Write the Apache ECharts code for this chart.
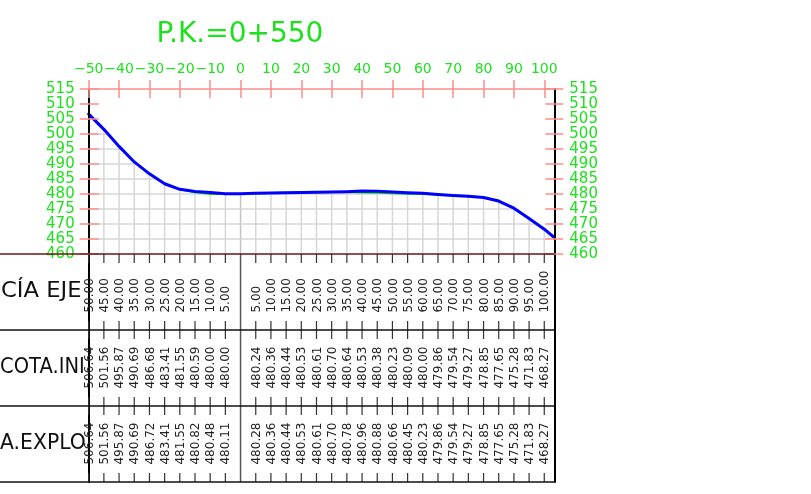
<!DOCTYPE html>
<html>
<head>
<meta charset="utf-8">
<script src="https://cdn.jsdelivr.net/npm/echarts@6/dist/echarts.min.js"></script>
<style>
html,body{margin:0;padding:0;background:#fff;}
#chart{width:811px;height:494px;}
</style>
</head>
<body>
<div id="chart"></div>
<script>
// ---------------- DATA ----------------
const titleText = 'P.K.=0+550';
const distances = [-50,-45,-40,-35,-30,-25,-20,-15,-10,-5,5,10,15,20,25,30,35,40,45,50,55,60,65,70,75,80,85,90,95,100];
const distanceLabels = ['50.00','45.00','40.00','35.00','30.00','25.00','20.00','15.00','10.00','5.00',
  '5.00','10.00','15.00','20.00','25.00','30.00','35.00','40.00','45.00','50.00','55.00','60.00','65.00','70.00','75.00','80.00','85.00','90.00','95.00','100.00'];
const cotaInicial = [506.64,501.56,495.87,490.69,486.68,483.41,481.55,480.59,480.00,480.00,
  480.24,480.36,480.44,480.53,480.61,480.70,480.64,480.53,480.38,480.23,480.09,480.00,479.86,479.54,479.27,478.85,477.65,475.28,471.83,468.27];
const cotaExplotacion = [506.64,501.56,495.87,490.69,486.72,483.41,481.55,480.82,480.48,480.11,
  480.28,480.36,480.44,480.53,480.61,480.70,480.78,480.96,480.88,480.66,480.45,480.23,479.86,479.54,479.27,478.85,477.65,475.28,471.83,468.27];
// extra profile vertices (axis point and right edge)
const extraInicial = [[0, 480.00], [103.3, 465.5]];
const extraExplotacion = [[0, 480.05], [103.3, 465.5]];
const xTicks = [-50,-40,-30,-20,-10,0,10,20,30,40,50,60,70,80,90,100];
const yTicks = [460,465,470,475,480,485,490,495,500,505,510,515];
const gridXs = [-45,-40,-35,-30,-25,-20,-15,-10,-5,0,5,10,15,20,25,30,35,40,45,50,55,60,65,70,75,80,85,90,95,100];
const gridYs = [465,470,475,480,485,490,495,500,505,510];
const rowTitles = ['CÍA EJE','COTA.INI','A.EXPLO'];

// ---------------- LAYOUT ----------------
const GL = 88.7, GT = 89, GW = 465.6, GH = 165;
const TT = GT + GH, ROWH = 76, TH = ROWH * 3;
const X_MIN = -50, X_MAX = 103.3, Y_MIN = 460, Y_MAX = 515;
const GREEN = '#1fe01f', PINK = '#ff8c8c', GRAY = '#d6d6d6';
const FONT = '"DejaVu Sans", "Liberation Sans", sans-serif';

function buildLine(vals, extras){
  return distances.map((d,i)=>[d, vals[i]]).concat(extras).sort((a,b)=>a[0]-b[0]);
}
const lineInicial = buildLine(cotaInicial, extraInicial);
const lineExplot = buildLine(cotaExplotacion, extraExplotacion);

function groundAt(x){
  const p = lineExplot;
  if (x <= p[0][0]) return p[0][1];
  for (let k = 1; k < p.length; k++){
    if (x <= p[k][0]){
      const t = (x - p[k-1][0]) / (p[k][0] - p[k-1][0]);
      return p[k-1][1] + t * (p[k][1] - p[k-1][1]);
    }
  }
  return p[p.length-1][1];
}
function intervalsBelowGround(gy){
  const p = lineExplot, out = [];
  let cur = null;
  for (let k = 1; k < p.length; k++){
    const x1 = p[k-1][0], y1 = p[k-1][1], x2 = p[k][0], y2 = p[k][1];
    let a = null, b = null;
    if (y1 >= gy && y2 >= gy){ a = x1; b = x2; }
    else if (y1 >= gy && y2 < gy){ a = x1; b = x1 + (gy - y1) / (y2 - y1) * (x2 - x1); }
    else if (y1 < gy && y2 >= gy){ a = x1 + (gy - y1) / (y2 - y1) * (x2 - x1); b = x2; }
    if (a === null) { if (cur) { out.push(cur); cur = null; } continue; }
    if (cur && Math.abs(cur[1] - a) < 1e-9) cur[1] = b;
    else { if (cur) out.push(cur); cur = [a, b]; }
  }
  if (cur) out.push(cur);
  return out;
}

const chart = echarts.init(document.getElementById('chart'), null, {renderer:'canvas'});

const xBase = {min: X_MIN, max: X_MAX, gridIndex: 0, position: 'top', type: 'value'};
const yBase = {min: Y_MIN, max: Y_MAX, interval: 5, gridIndex: 0, type: 'value'};

const option = {
  animation: false,
  backgroundColor: '#fff',
  grid: [
    {left: GL, top: GT, width: GW, height: GH, containLabel: false},
    {left: GL, top: TT, width: GW, height: TH, containLabel: false}
  ],
  xAxis: [
    Object.assign({}, xBase, {
      interval: 10, z: 5,
      axisLine: {show:true, onZero:false, lineStyle:{color:PINK, width:1.5}},
      axisTick: {show:true, inside:false, length:9, lineStyle:{color:PINK, width:1.5}, customValues: xTicks},
      axisLabel: {show:true, showMinLabel:true, hideOverlap:false, color:GREEN, fontSize:14, fontFamily:FONT, margin:13, customValues: xTicks,
        formatter: v => (v < 0 ? '\u2212' + Math.abs(v) : String(v))},
      splitLine: {show:false}
    }),
    Object.assign({}, xBase, {
      interval: 10, z: 5,
      axisLine: {show:false, onZero:false},
      axisTick: {show:true, inside:true, length:9, lineStyle:{color:PINK, width:1.5}, customValues: xTicks},
      axisLabel: {show:false},
      splitLine: {show:false}
    }),
    {type:'value', gridIndex:1, min:X_MIN, max:X_MAX, show:false, axisLine:{onZero:false}, splitLine:{show:false}}
  ],
  yAxis: [
    Object.assign({}, yBase, {
      position:'left', z:5,
      axisLine:{show:true, onZero:false, lineStyle:{color:'#000', width:2}},
      axisTick:{show:true, inside:false, length:9, lineStyle:{color:PINK, width:1.5}},
      axisLabel:{show:true, color:GREEN, fontSize:15, fontFamily:FONT, margin:14},
      splitLine:{show:false}
    }),
    Object.assign({}, yBase, {
      position:'left', z:5,
      axisLine:{show:false, onZero:false},
      axisTick:{show:true, inside:true, length:10, lineStyle:{color:PINK, width:1.5}},
      axisLabel:{show:false}, splitLine:{show:false}
    }),
    Object.assign({}, yBase, {
      position:'right', z:5,
      axisLine:{show:true, onZero:false, lineStyle:{color:'#000', width:2}},
      axisTick:{show:true, inside:false, length:9, lineStyle:{color:PINK, width:1.5}},
      axisLabel:{show:true, color:GREEN, fontSize:15, fontFamily:FONT, margin:15},
      splitLine:{show:false}
    }),
    Object.assign({}, yBase, {
      position:'right', z:5,
      axisLine:{show:false, onZero:false},
      axisTick:{show:true, inside:true, length:9, lineStyle:{color:PINK, width:1.5}},
      axisLabel:{show:false}, splitLine:{show:false}
    }),
    {type:'value', gridIndex:1, min:0, max:3, inverse:true, position:'left',
      axisLine:{show:true, onZero:false, lineStyle:{color:'#000', width:2}}, axisTick:{show:false}, axisLabel:{show:false}, splitLine:{show:false}},
    {type:'value', gridIndex:1, min:0, max:3, inverse:true, position:'right',
      axisLine:{show:true, onZero:false, lineStyle:{color:'#000', width:2}}, axisTick:{show:false}, axisLabel:{show:false}, splitLine:{show:false}}
  ],
  series: [
    { // 5 m grid, drawn only below the ground line
      type:'custom', xAxisIndex:0, yAxisIndex:0, z:1,
      data:[[0, 480]], encode:{x:0, y:1},
      renderItem(params, api){
        const ch = [];
        gridXs.forEach(gx=>{
          const a = api.coord([gx, Y_MIN]), b = api.coord([gx, groundAt(gx)]);
          ch.push({type:'line', shape:{x1:a[0], y1:a[1], x2:b[0], y2:b[1]},
            style:{stroke: gx === 0 ? '#c4c4c4' : GRAY, lineWidth:1.5}});
        });
        gridYs.forEach(gy=>{
          intervalsBelowGround(gy).forEach(iv=>{
            const a = api.coord([iv[0], gy]), b = api.coord([iv[1], gy]);
            ch.push({type:'line', shape:{x1:a[0], y1:a[1], x2:b[0], y2:b[1]}, style:{stroke:GRAY, lineWidth:1.5}});
          });
        });
        return {type:'group', children:ch};
      }
    },
    {
      name:'Cota inicial', type:'line', xAxisIndex:0, yAxisIndex:0, data: lineInicial, z:2,
      showSymbol:false, lineStyle:{color:'#00e000', width:2}
    },
    {
      name:'Cota explotación', type:'line', xAxisIndex:0, yAxisIndex:0, data: lineExplot, z:3,
      showSymbol:false, lineStyle:{color:'#0000ff', width:3, cap:'round', join:'round'}
    },
    { // table columns
      type:'custom', xAxisIndex:2, yAxisIndex:4, z:4,
      data: distances.map(d=>[d, 0]),
      encode:{x:0, y:1},
      renderItem(params, api){
        const i = params.dataIndex;
        const x = api.value(0);
        const b = [0,1,2,3].map(r=>api.coord([x, r]));
        const px = b[0][0];
        const T = 9;
        const tick = (y1,y2)=>({type:'line', shape:{x1:px, y1:y1, x2:px, y2:y2}, style:{stroke:'#333', lineWidth:1.2}});
        const ch = [tick(b[0][1], b[0][1]+T), tick(b[1][1]-T, b[1][1]+T), tick(b[2][1]-T, b[2][1]+T), tick(b[3][1]-T, b[3][1])];
        const texts = [distanceLabels[i], cotaInicial[i].toFixed(2), cotaExplotacion[i].toFixed(2)];
        texts.forEach((t,r)=>{
          const a = api.coord([x, r + 0.77]);
          ch.push({type:'text', x:a[0]+1, y:a[1], rotation:Math.PI/2,
            style:{text:t, fill:'#222', font:'12px ' + FONT, align:'left', verticalAlign:'middle'}});
        });
        return {type:'group', children:ch};
      }
    },
    { // axis (0) separator line in the table
      type:'custom', xAxisIndex:2, yAxisIndex:4, z:4,
      data:[[0,0]], encode:{x:0, y:1},
      renderItem(params, api){
        const p0 = api.coord([api.value(0), 0]);
        const p1 = api.coord([api.value(0), 3]);
        return {type:'line', shape:{x1:p0[0], y1:p0[1], x2:p1[0], y2:p1[1]}, style:{stroke:'#555', lineWidth:1.5}};
      }
    }
  ],
  graphic: [
    {type:'text', x:240, y:35, z:10, style:{text:titleText, fill:GREEN, font:'28px ' + FONT, align:'center', verticalAlign:'middle'}},
    {type:'line', z:6, shape:{x1:0, y1:TT, x2:GL+GW, y2:TT}, style:{stroke:'#6a1414', lineWidth:1.5}},
    {type:'line', z:6, shape:{x1:0, y1:TT+ROWH, x2:GL+GW, y2:TT+ROWH}, style:{stroke:'#111', lineWidth:1.5}},
    {type:'line', z:6, shape:{x1:0, y1:TT+2*ROWH, x2:GL+GW, y2:TT+2*ROWH}, style:{stroke:'#111', lineWidth:1.5}},
    {type:'line', z:6, shape:{x1:0, y1:TT+3*ROWH, x2:GL+GW, y2:TT+3*ROWH}, style:{stroke:'#111', lineWidth:1.5}},
    {type:'text', x:1, y:TT+ROWH*0.5, scaleX:1.08, z:6, style:{text:rowTitles[0], fill:'#111', font:'21px ' + FONT, align:'left', verticalAlign:'middle'}},
    {type:'text', x:0, y:TT+ROWH*1.5, scaleX:0.93, z:6, style:{text:rowTitles[1], fill:'#111', font:'21px ' + FONT, align:'left', verticalAlign:'middle'}},
    {type:'text', x:0, y:TT+ROWH*2.5, scaleX:0.97, z:6, style:{text:rowTitles[2], fill:'#111', font:'21px ' + FONT, align:'left', verticalAlign:'middle'}}
  ]
};
chart.setOption(option);
</script>
</body>
</html>
